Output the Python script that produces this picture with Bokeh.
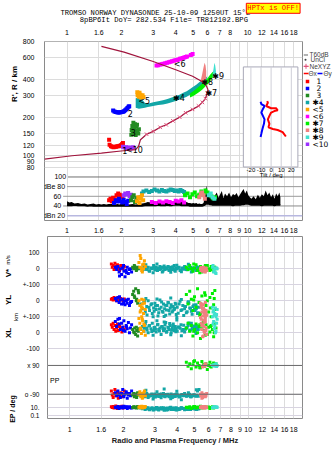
import math
from bokeh.plotting import figure
from bokeh.layouts import column, row
from bokeh.models import Range1d, LinearScale, FixedTicker, Label, LogAxis, Span
from bokeh.embed import file_html
from bokeh.resources import INLINE

# ------------------------------------------------------------------ texts / ticks
TITLE_1 = "TROMSO NORWAY   DYNASONDE 25-10-09 1250UT 15°E"
TITLE_2 = "8pBP6It DoY= 282.534 File= TR812102.BPG"
WARNING = "HPTx is OFF!"
X_LABEL = "Radio and Plasma Frequency / MHz"
H_LABEL = "R', R / km"
FREQ_TICKS_TOP = [1, 1.5, 2, 3, 4, 5, 6, 7, 8, 10, 12, 14, 16, 18]
FREQ_LABELS_TOP = ["1", "1.6", "2", "3", "4", "5", "6", "7", "8", "10", "12", "14", "16", "18"]
FREQ_TICKS_BOTTOM = [1, 1.5, 2, 3, 4, 5, 6, 7, 8, 9, 10, 12, 14, 16, 18]
FREQ_LABELS_BOTTOM = ["1", "1.6", "2", "3", "4", "5", "6", "7", "8", "9", "10", "12", "14", "16", "18"]
HEIGHT_TICKS = [80, 90, 100, 120, 150, 200, 300, 400, 600, 800]
DB_TICKS = [100, 80, 60, 40, 20]
DB_TICK_LABELS = ["100", "dBe 80", "60", "40", "dBn 20"]
TILT_TICKS = [-20, -10, 0, 10, 20]
TILT_LABEL = "Tilt / deg"
LOW_TICK_LABELS = ["100", "0", "+-100", "0", "+-100", "0", "-100", "x 90", "o -90", "10.", "0.1"]
LEGEND_TOP = ["T60dB", "UnCl", "NeXYZ", "Θx", "Θy"]
TRACE_NAMES = ["1", "2", "3", "✱4", "<5", "<6", "✱7", "✱8", "✱9", "<10"]
TRACE_COLORS = ["#ff0000", "#0000ff", "#228b22", "#12a6a6", "#ffa500",
                "#ff00ff", "#00ee00", "#f08080", "#40e0d0", "#9b30ff"]

# ------------------------------------------------------------------ N(h) profile (MHz, km)
PROF_F = [0.75, 1.065, 1.55, 1.99, 2.40, 2.49, 2.55, 2.76, 3.0, 3.28, 3.54, 3.86, 4.21, 4.54,
          4.96, 5.35, 5.62, 5.84, 5.98, 6.03, 5.91, 5.62, 4.96, 4.0, 3.0, 2.07, 1.55]
PROF_H = [94, 100, 105, 109, 112, 119, 134, 148, 156, 168, 176, 189, 202, 219,
          233, 248, 265, 284, 313, 335, 358, 386, 427, 480, 558, 662, 735]

# ------------------------------------------------------------------ echo traces, R' (MHz, km)
E1_F = [1.71, 1.72, 1.75, 1.78, 1.81, 1.84, 1.87, 1.90, 1.93, 1.96, 1.99, 2.02, 2.04]
E1_H = [134, 122, 119, 118, 117, 118, 118, 119, 119, 120, 121, 124, 126]
E2_F = [1.80, 1.83, 1.86, 1.89, 1.92, 1.95, 1.98, 2.01, 2.04, 2.07, 2.10, 2.13, 2.16, 2.19, 2.21]
E2_H = [228, 224, 222, 221, 220, 220, 221, 222, 223, 225, 229, 234, 239, 244, 247]
E3_F = [2.33, 2.38, 2.30, 2.42, 2.35, 2.28, 2.45, 2.38, 2.31, 2.48, 2.40, 2.27, 2.50, 2.36, 2.44]
E3_H = [183, 178, 172, 170, 165, 160, 158, 155, 150, 150, 146, 147, 162, 168, 176]
E4_F = [2.40, 2.50, 2.60, 2.70, 2.80, 2.90, 3.00, 3.20, 3.40, 3.60, 3.80, 4.00, 4.20, 4.40,
        4.60, 4.80, 5.00, 5.20, 5.40, 5.60, 5.80, 5.95]
E4_LO = [240, 236, 238, 240, 243, 246, 248, 252, 255, 260, 266, 272, 279, 286,
         294, 304, 315, 328, 342, 356, 372, 385]
E4_HI = [285, 290, 280, 262, 258, 262, 266, 270, 275, 282, 290, 298, 305, 315,
         325, 338, 352, 366, 382, 398, 412, 425]
E5_F = [2.45, 2.48, 2.52, 2.46, 2.55, 2.60, 2.50, 2.57, 2.62, 2.65, 2.53]
E5_H = [318, 310, 316, 302, 305, 298, 294, 290, 302, 292, 300]
E6_F = [3.13, 3.20, 3.28, 3.35, 3.42, 3.50, 3.58, 3.66, 3.74, 3.82, 3.90, 3.98, 4.06, 4.14,
        4.22, 4.30, 4.38, 4.46, 4.54, 4.62, 4.85, 4.96]
E6_H = [518, 522, 528, 532, 536, 542, 545, 550, 556, 560, 566, 570, 575, 580,
        586, 590, 596, 600, 606, 612, 630, 640]
E7_F = [4.80, 5.00, 5.20, 5.40, 5.60, 5.80, 6.00, 6.20, 6.40, 6.55]
E7_LO = [290, 298, 308, 320, 334, 350, 368, 390, 415, 435]
E7_HI = [312, 325, 340, 356, 372, 392, 412, 438, 462, 470]
E8_F = [5.50, 5.60, 5.70, 5.78, 5.85, 5.90]
E8_LO = [380, 385, 390, 395, 400, 405]
E8_HI = [395, 440, 500, 545, 520, 470]
E9_F = [6.40, 6.48, 6.55, 6.62, 6.68]
E9_LO = [420, 425, 430, 435, 440]
E9_HI = [440, 490, 545, 520, 470]
E10_F = [2.04, 2.08, 2.12, 2.16, 2.20, 2.24, 2.28, 2.32]
E10_H = [118, 116, 117, 115, 116, 114, 115, 117]
ECHO_LABEL_F = [2.02, 2.17, 2.25, 3.86, 2.48, 3.90, 5.84, 5.55, 6.37, 2.12]
ECHO_LABEL_H = [110, 215, 152, 282, 270, 528, 312, 380, 428, 110]

# ------------------------------------------------------------------ tilt inset (deg, km)
TILTX_T = [-3.9, -3.2, -4.9, 0, 4.9, 6.5, 3.2, 0, -1.7, -3.2, -1.7, -2.6, 1.7, 6.5, 11.4, 14.6]
TILTX_H = [271, 263, 248, 238, 238, 229, 226, 220, 207, 194, 179, 168, 163, 160, 154, 142]
TILTY_T = [-10.4, -9.7, -6.5, -8.1, -9.7, -8.1, -6.5, -7.1, -8.1, -9.0, -9.7, -10.4]
TILTY_H = [268, 257, 248, 235, 220, 207, 194, 179, 168, 158, 149, 141]

# ------------------------------------------------------------------ amplitudes (MHz, dB)
NOISE_F = [1.00, 1.03, 1.06, 1.10, 1.15, 1.20, 1.25, 1.30, 1.35, 1.40,
           1.45, 1.50, 1.55, 1.60, 1.65, 1.70, 1.75, 1.80, 1.85, 1.90,
           1.95, 2.00, 2.10, 2.20, 2.30, 2.40, 2.50, 2.60, 2.70, 2.80,
           2.90, 3.00, 3.10, 3.20, 3.30, 3.40, 3.50, 3.60, 3.70, 3.80,
           3.90, 4.00, 4.10, 4.20, 4.30, 4.40, 4.50, 4.60, 4.70, 4.80,
           4.90, 5.00, 5.10, 5.20, 5.30, 5.40, 5.50, 5.60, 5.70, 5.80,
           5.85, 5.90, 5.95, 6.00, 6.10, 6.20, 6.30, 6.40, 6.50, 6.60,
           6.75, 6.90, 7.05, 7.20, 7.35, 7.50, 7.70, 7.90, 8.10, 8.30,
           8.50, 8.70, 8.90, 9.10, 9.30, 9.50, 9.70, 9.90, 10.1, 10.3,
           10.5, 10.8, 11.1, 11.4, 11.7, 12.0, 12.3, 12.6, 12.9, 13.2,
           13.5, 13.8, 14.1, 14.4, 14.7, 15.0, 15.2]
NOISE_HI = [50, 47, 48, 45, 46, 44, 45, 43, 44, 45,
            43, 44, 43, 44, 43, 44, 44, 45, 43, 44,
            43, 45, 44, 43, 44, 43, 44, 45, 46, 48,
            47, 50, 48, 51, 49, 48, 47, 50, 48, 49,
            50, 52, 49, 50, 48, 49, 47, 48, 46, 46,
            45, 46, 45, 46, 44, 45, 44, 44, 46, 58,
            72, 82, 75, 68, 62, 58, 56, 58, 60, 62,
            68, 57, 64, 71, 56, 66, 60, 68, 58, 65,
            62, 67, 58, 64, 70, 75, 66, 72, 62, 58,
            55, 60, 54, 63, 57, 64, 60, 72, 62, 68,
            58, 64, 55, 66, 60, 68, 58]
NOISE_LO = [41, 41, 41, 42, 41, 41, 41, 40, 41, 40,
            40, 40, 40, 40, 40, 40, 40, 40, 40, 40,
            40, 40, 40, 40, 40, 40, 40, 40, 41, 41,
            41, 41, 41, 42, 41, 41, 41, 42, 41, 41,
            42, 42, 42, 42, 41, 41, 41, 41, 41, 40,
            40, 40, 40, 40, 40, 40, 40, 40, 41, 42,
            44, 45, 44, 44, 44, 43, 43, 42, 42, 42,
            42, 42, 42, 42, 42, 42, 42, 42, 42, 41,
            42, 42, 42, 42, 43, 43, 44, 44, 44, 43,
            42, 42, 42, 42, 42, 41, 42, 42, 42, 42,
            42, 42, 41, 42, 42, 42, 42]
A1_F = [1.71, 1.74, 1.77, 1.80, 1.84, 1.88, 1.92, 1.96, 2.00, 2.03]
A1_DB = [52, 55, 50, 57, 54, 62, 66, 63, 58, 60]
A2_F = [1.82, 1.86, 1.90, 1.94, 1.98, 2.02, 2.06, 2.10, 2.14, 2.18]
A2_DB = [46, 52, 49, 55, 50, 47, 53, 48, 44, 51]
A3_F = [2.26, 2.30, 2.34, 2.38, 2.42]
A3_DB = [52, 58, 62, 48, 56]
A4_F = [2.55, 2.60, 2.65, 2.75, 2.85, 2.95, 3.05, 3.15, 3.25, 3.35, 3.45,
        3.55, 3.65, 3.75, 3.85, 3.95, 4.05, 4.15, 4.25, 4.35, 4.45]
A4_DB = [58, 66, 70, 72, 69, 71, 74, 72, 70, 73, 71,
         70, 72, 74, 73, 71, 72, 70, 73, 71, 69]
A5_F = [2.44, 2.48, 2.52, 2.56, 2.60, 2.64]
A5_DB = [50, 58, 46, 55, 62, 52]
A6_F = [2.95, 3.10, 3.25, 3.40, 3.55, 3.70, 3.85, 4.00, 4.15, 4.30, 4.45]
A6_DB = [48, 46, 49, 47, 50, 48, 46, 51, 49, 52, 47]
A7_F = [4.50, 4.65, 4.80, 4.95, 5.10, 5.25, 5.40, 5.55, 5.70, 5.85, 6.00, 6.15, 6.30, 6.45, 6.60]
A7_DB = [62, 66, 58, 64, 68, 60, 63, 70, 66, 72, 68, 64, 60, 56, 58]
A8_F = [5.40, 5.50, 5.60, 5.70, 5.80]
A8_DB = [58, 64, 68, 62, 55]
A9_F = [6.10, 6.25, 6.40, 6.55]
A9_DB = [62, 66, 58, 55]
A10_F = [2.06, 2.10, 2.14, 2.18, 2.22, 2.26]
A10_DB = [62, 66, 64, 67, 60, 63]

# ------------------------------------------------------------------ lower panel: V* (m/s), YL, XL (km), PP, EP (deg)
L1_F = [1.71, 1.73, 1.75, 1.77, 1.79, 1.81, 1.83, 1.85, 1.87, 1.90, 1.93, 1.96, 1.99, 2.02]
L1_V = [30, 10, 20, -5, 35, 15, 0, 25, 5, -10, 20, 10, 0, 15]
L1_YL = [10, 15, 5, 20, 12, 8, 0, 18, 10, 5, 15, 8, 2, 12]
L1_XL = [50, 35, 60, 20, 45, 10, 30, 55, 15, 40, 25, 5, 35, 20]
L1_PP = [-70, -95, -110, -85, -60, -100, -90, -75, -115, -95, -80, -105, -90, -70]
L1_EP = [12, 8, 15, 6, 10, 20, 9, 5, 14, 7, 11, 18, 6, 9]

L2_F = [1.80, 1.83, 1.86, 1.89, 1.92, 1.95, 1.98, 2.01, 2.04, 2.07, 2.10, 2.13, 2.16, 2.19, 2.22, 1.90, 2.00, 2.08]
L2_V = [10, -5, 15, -20, 0, -35, 5, -15, -50, -10, 10, -30, -5, 0, -20, -45, 20, -25]
L2_YL = [15, 0, 20, -10, 5, -20, 10, -5, -25, 0, -15, 10, -30, -10, -5, 25, -18, 5]
L2_XL = [70, 40, 85, 55, 20, 60, 35, 75, 10, 45, 25, 65, 0, 30, 50, 90, 15, 38]
L2_PP = [-80, -100, -70, -95, -110, -85, -60, -105, -90, -75, -115, -95, -85, -100, -70, -88, -98, -82]
L2_EP = [10, 7, 14, 5, 9, 12, 6, 16, 8, 11, 5, 9, 13, 7, 6, 10, 8, 12]

L3_F = [2.25, 2.28, 2.31, 2.34, 2.37, 2.40, 2.43, 2.30, 2.36, 2.42]
L3_V = [10, 0, 15, 5, -5, 10, 0, 20, -10, 5]
L3_YL = [40, 60, 20, 75, 10, -15, 50, 30, 0, 65]
L3_XL = [20, 5, 30, -10, 15, -20, 25, 0, 35, 10]
L3_PP = [-95, -85, -100, -90, -110, -80, -95, -105, -88, -92]
L3_EP = [9, 12, 7, 10, 6, 14, 8, 11, 9, 7]

L4_F = [2.50, 2.55, 2.60, 2.65, 2.70, 2.75, 2.80, 2.85, 2.90, 2.95,
        3.00, 3.05, 3.10, 3.15, 3.20, 3.25, 3.30, 3.35, 3.40, 3.45,
        3.50, 3.55, 3.60, 3.65, 3.70, 3.75, 3.80, 3.85, 3.90, 3.95,
        4.00, 4.10, 4.20, 4.30, 4.40, 4.50, 4.60, 4.70, 4.80, 4.90,
        5.00, 5.10, 5.20, 5.30]
L4_V = [5, -10, 15, 0, -5, 10, -15, 5, 0, 20, -5, 10, -10, 5, 15, 0, -20, 10, -5, 5,
        0, 15, -10, 5, 10, -5, 0, 20, -15, 5, 0, 10, -10, 5, 15, -5, 0, 10, -20, 5,
        0, -10, 10, -5]
L4_YL = [-20, -50, -10, -70, -35, 0, -60, -25, -80, -45, -15, -55, -30, -75, 5, -40, -65, -20, -50, -90,
         -30, -10, -60, -45, -25, -70, -35, -55, -15, -85, -40, -20, -60, -30, -50, -75, -10, -45, -65, -35,
         -55, -25, -80, -40]
L4_XL = [20, 40, 10, 55, 30, 0, 45, 25, 60, 15, 35, 5, 50, 20, 30, -10, 40, 15, 25, 65,
         10, 35, 20, 45, 0, 30, 55, 15, 40, 25, 10, 35, 50, 20, 5, 30, 45, 15, 60, 25,
         35, -5, 20, 40]
L4_PP = [-95, -100, -90, -105, -85, -110, -95, -100, -92, -108, -88, -100, -96, -104, -90, -112, -98, -85, -102, -94,
         -100, -90, -106, -96, -88, -110, -100, -93, -104, -97, -90, -108, -95, -100, -86, -102, -98, -92, -106, -99,
         -94, -103, -70, -60]
L4_EP = [6, 4, 8, 3, 5, 7, 2.5, 4, 6, 3, 5, 9, 4, 2, 6, 3.5, 5, 7, 3, 4,
         6, 2.5, 5, 8, 3, 4, 6, 3, 5, 7, 4, 3, 6, 5, 2.5, 4, 7, 3, 5, 6,
         4, 3, 5, 4]

L4B_F = [2.62, 2.71, 2.78, 2.88, 2.97, 3.02, 3.12, 3.18, 3.27, 3.33,
         3.42, 3.48, 3.57, 3.63, 3.72, 3.78, 3.87, 3.93, 4.05, 4.15,
         4.25, 4.35, 4.45, 4.55, 4.65, 4.75, 4.85, 4.95, 5.05, 5.15,
         5.25, 2.67, 2.93, 3.08, 3.38, 3.68, 3.98, 4.22, 4.62, 5.12]
L4B_V = [-3, 8, -12, 4, 12, -8, 2, -4, 9, -14, 6, -2, 11, -7, 3, 13, -9, 1, 7, -11,
         4, -3, 10, -6, 2, 8, -13, 5, -1, 12, -5, 25, -25, 30, 18, -22, 22, -18, 28, -8]
L4B_YL = [-5, -88, -42, -18, -66, -33, -95, -52, -8, -72, -28, -58, -12, -82, -38, -62, -48, -22, -78, -3,
          -56, -92, -36, -68, -15, -46, -84, -26, -60, -40, -74, 15, -100, 12, -98, 18, -105, 8, -6, -50]
L4B_XL = [28, 18, 42, 8, 33, 22, 52, 12, 38, 27, 48, 3, 32, 58, 17, 43, 23, 7, 37, 28,
          13, 47, 22, 33, 62, 18, 27, 42, 8, 32, 20, 70, -15, 75, 68, -12, 80, -18, 55, 45]
L4B_PP = [-98, -92, -103, -88, -97, -107, -93, -101, -89, -99, -105, -91, -97, -102, -94, -108, -96, -90, -100, -104,
          -92, -98, -95, -101, -88, -106, -97, -93, -100, -96, -103, -65, -120, -75, -58, -118, -72, -125, -80, -62]
L4B_EP = [4, 5.5, 3, 6.5, 2.5, 4.5, 3, 5, 7, 3.5, 4, 2, 5, 6, 3, 4.5, 5.5, 2.5, 4, 3.5,
          6, 5, 3, 4, 7, 3, 5, 4, 6, 3, 4.5, 9, 2, 8, 1.8, 10, 2.2, 7, 3, 5]

L5_F = [2.44, 2.47, 2.50, 2.53, 2.56, 2.59, 2.62, 2.65, 2.48, 2.55, 2.60, 2.52]
L5_V = [40, 10, 65, -10, 25, 0, 50, 15, 83, -20, 30, 5]
L5_YL = [0, -30, -60, 10, -45, -80, -15, -55, -70, -20, 5, -40]
L5_XL = [90, 60, 30, 100, 75, 10, 45, -15, 20, 85, 55, -5]
L5_PP = [-90, -75, -105, -85, -110, -95, -70, -100, -88, -115, -80, -96]
L5_EP = [10, 14, 8, 18, 6, 12, 9, 15, 7, 11, 13, 8]

L7_F = [4.50, 4.60, 4.70, 4.80, 4.90, 5.00, 5.10, 5.20, 5.30, 5.40,
        5.50, 5.60, 5.70, 5.80, 5.90, 6.00, 6.10, 6.20, 6.30, 6.40,
        6.50, 6.60, 4.95, 5.35, 5.75, 6.15, 6.45]
L7_V = [10, -5, 20, 0, -15, 5, 25, -10, 0, 15, -20, 5, 10, -5, 20, 0, -10, 15, 5, -15, 10, 0, 30, -25, 20, -5, 10]
L7_YL = [40, -20, 60, 10, -60, 25, -40, 75, -10, -80, 30, -50, 50, -30, 0, -70, 20, -100, 45, -25, 65, -55, 5, -90, 35, -45, 15]
L7_XL = [30, 60, 10, 45, -20, 20, 55, 0, 40, -35, 25, 65, 15, 50, -10, 35, 5, 45, 20, -25, 60, 30, 10, 50, -15, 40, 0]
L7_PP = [110, 85, 100, 70, 95, 120, 80, 105, 90, 75, 115, 95, 85, 100, 65, 90, 110, 80, 95, 105, 90, 100, 115, 75, 95, 85, 100]
L7_EP = [10, 7, 12, 5, 9, 14, 6, 11, 8, 16, 6, 10, 13, 7, 9, 11, 5, 8, 12, 6, 10, 9, 15, 7, 11, 8, 10]

L8_F = [5.40, 5.45, 5.50, 5.55, 5.60, 5.65, 5.70, 5.75, 5.80, 5.85, 5.45, 5.55, 5.65, 5.75, 5.50, 5.60, 5.70, 5.80]
L8_V = [0, -10, 5, -15, 10, -5, 0, -20, 5, -10, 8, -12, 2, -8, -3, 6, -18, 0]
L8_YL = [-15, -40, -70, -95, -25, -55, -85, -10, -60, -90, -30, -50, -75, -100, -20, -45, -65, -80]
L8_XL = [95, 60, 20, -25, 80, 40, 0, 70, 30, -10, 85, 50, 10, 90, 45, -20, 65, 15]
L8_PP = [-90, -100, -80, -110, -95, 90, 85, -105, 95, -85, -100, 80, -90, 100, -115, -95, 88, -100]
L8_EP = [9, 12, 7, 14, 10, 6, 11, 8, 13, 9, 10, 7, 12, 8, 11, 9, 6, 10]

L9_F = [6.30, 6.40, 6.50, 6.60, 6.70, 6.35, 6.45, 6.55, 6.65]
L9_V = [10, -20, 5, -30, 0, 20, -10, -25, 5]
L9_YL = [-40, -60, -80, -100, -55, -70, -90, -45, -85]
L9_XL = [100, 70, 40, 10, 85, 55, 25, 0, 60]
L9_PP = [90, 95, 85, 100, 90, 88, 92, 96, 84]
L9_EP = [8, 11, 9, 13, 10, 7, 12, 9, 10]

# ------------------------------------------------------------------ layout helpers
PAGE_W, PAGE_H = 335, 451
LEFT_W = 19            # strip holding the rotated side labels
TITLE_H = 26           # strip holding the two title lines
FL, FR = 39, 302       # frame left / right (page px)
A_TOP, A_BOT = 39, 222
A_END = 235            # bottom of the upper figure (page px)
B_TOP, B_BOT = 236, 418
FONT = "Liberation Sans"
MONO = "Liberation Mono"


def f_at(px):
    return 10 ** ((px - 62.0) / 184.0)


def h_at(py):
    return 800.0 * 10 ** (-(py - 39.3) / 129.0)


def db_at(py):
    return 100.0 - (py - 177.5) / 0.494


def tilt_at(px):
    return (px - 270.0) / 1.03


def v_at(py):
    return (268.3 - py) / 0.16


def yv(v):
    return v


def yyl(v):
    return v - 200.0


def yxl(v):
    return v - 400.0


def ypp(v):
    return v - 694.0


def yep(v):
    return -891.0 + 26.0 * math.log10(v)


def label(p, x, y, text, size="7px", color="black", align="left", style="normal",
          font=FONT, angle=0.0, **kw):
    p.add_layout(Label(x=x, y=y, text=text, text_font_size=size, text_color=color,
                       text_align=align, text_baseline="middle", text_font=font,
                       text_font_style=style, angle=angle, **kw))


def strip(w, h, x0, x1, y0, y1):
    s = figure(width=w, height=h, x_range=Range1d(x0, x1), y_range=Range1d(y1, y0),
               output_backend="svg", toolbar_location=None,
               x_axis_location=None, y_axis_location=None, min_border=0,
               min_border_left=0, min_border_right=0, min_border_top=0, min_border_bottom=0)
    s.grid.visible = False
    s.outline_line_color = None
    s.background_fill_color = "white"
    s.border_fill_color = "white"
    return s


def style_axis(ax, ticks, labels, standoff, size="7px"):
    ax.ticker = FixedTicker(ticks=ticks)
    ax.major_label_overrides = {t: l for t, l in zip(ticks, labels)}
    ax.axis_line_color = None
    ax.major_tick_line_color = None
    ax.minor_tick_line_color = None
    ax.major_label_text_font_size = size
    ax.major_label_text_font = FONT
    ax.major_label_text_color = "black"
    ax.major_label_standoff = standoff


c = TRACE_COLORS

# ================================================================== upper figure
A_W = FR + 1 - LEFT_W
A_H = A_END - TITLE_H
pa = figure(width=A_W, height=A_H, x_axis_type="log", y_axis_type="log",
            x_range=Range1d(f_at(FL), f_at(FR)), y_range=Range1d(h_at(A_BOT), h_at(A_TOP)),
            output_backend="svg", toolbar_location=None,
            min_border_left=FL - LEFT_W, min_border_right=1, min_border_top=A_TOP - TITLE_H,
            min_border_bottom=A_END - A_BOT)
pa.extra_x_ranges = {"tilt": Range1d(tilt_at(FL), tilt_at(FR))}
pa.extra_x_scales = {"tilt": LinearScale()}
pa.extra_y_ranges = {"db": Range1d(db_at(A_BOT), db_at(A_TOP))}
pa.extra_y_scales = {"db": LinearScale()}
pa.outline_line_color = "#8a8a8a"
pa.background_fill_color = "white"
pa.border_fill_color = "white"
pa.xgrid.ticker = FixedTicker(ticks=FREQ_TICKS_BOTTOM)
pa.ygrid.ticker = FixedTicker(ticks=HEIGHT_TICKS)
pa.xgrid.grid_line_color = "#dcdcdc"
pa.ygrid.grid_line_color = "#dcdcdc"
style_axis(pa.xaxis[0], FREQ_TICKS_BOTTOM, FREQ_LABELS_BOTTOM, 1)
style_axis(pa.yaxis[0], HEIGHT_TICKS, [str(t) for t in HEIGHT_TICKS], 4)
top_ax = LogAxis()
style_axis(top_ax, FREQ_TICKS_TOP, FREQ_LABELS_TOP, 1)
pa.add_layout(top_ax, "above")

# tilt inset
pa.quad(left=tilt_at(241.7), right=tilt_at(297.3), bottom=h_at(167.3), top=h_at(65),
        x_range_name="tilt", fill_color="white", line_color="#a8a8b8", line_width=1)
pa.segment(x0=TILT_TICKS, x1=TILT_TICKS, y0=[h_at(167.3)] * len(TILT_TICKS),
           y1=[h_at(65)] * len(TILT_TICKS), x_range_name="tilt", line_color="#cfcfd8", line_width=1)
pa.line(TILTX_T, TILTX_H, x_range_name="tilt", line_color="#ff0000", line_width=2)
pa.line(TILTY_T, TILTY_H, x_range_name="tilt", line_color="#0000ff", line_width=2)
for t in TILT_TICKS:
    label(pa, t, h_at(170.8), str(t), size="6px", align="center", x_range_name="tilt")
label(pa, 0, h_at(175.8), TILT_LABEL, size="6px", align="center", x_range_name="tilt")

# echo traces (R')
pa.varea(x=E4_F, y1=E4_LO, y2=E4_HI, fill_color=c[3])
pa.varea(x=E7_F, y1=E7_LO, y2=E7_HI, fill_color=c[6])
pa.varea(x=E8_F, y1=E8_LO, y2=E8_HI, fill_color=c[7])
pa.varea(x=E9_F, y1=E9_LO, y2=E9_HI, fill_color=c[8])
pa.line(E1_F[1:], E1_H[1:], line_color=c[0], line_width=3)
pa.scatter(E1_F, E1_H, marker="square", size=4, fill_color=c[0], line_color=None)
pa.line(E2_F, E2_H, line_color=c[1], line_width=3)
pa.scatter(E2_F, E2_H, marker="square", size=4, fill_color=c[1], line_color=None)
pa.scatter(E3_F, E3_H, marker="square", size=4, fill_color=c[2], line_color=None)
pa.scatter(E5_F, E5_H, marker="square", size=4, fill_color=c[4], line_color=None)
pa.scatter(E6_F, E6_H, marker="square", size=4, fill_color=c[5], line_color=None)
pa.scatter(E10_F, E10_H, marker="square", size=4, fill_color=c[9], line_color=None)

# N(h) profile
pa.line(PROF_F, PROF_H, line_color="#a0143c", line_width=1.2)
pa.scatter(PROF_F[7:19], PROF_H[7:19], marker="x", size=5, line_color="#e0507a", line_width=1)

for name, f, h in zip(TRACE_NAMES, ECHO_LABEL_F, ECHO_LABEL_H):
    label(pa, f, h, name, size="8px", font="DejaVu Sans")

# amplitude panel
DB_LABEL_RIGHT = [61, 60, 56, 56, 60]
DB_LINE_COLORS = ["#707070", "#9a9a9a", "#9a9a9a", "#8a8a8a", "#b8b8e0"]
for tick, lab, rx, lc in zip(DB_TICKS, DB_TICK_LABELS, DB_LABEL_RIGHT, DB_LINE_COLORS):
    pa.segment(x0=[f_at(rx + 2)], x1=[f_at(FR)], y0=[tick], y1=[tick], y_range_name="db",
               line_color=lc, line_width=1.5 if tick == 20 else 1)
    label(pa, f_at(rx), tick, lab, align="right", y_range_name="db")
pa.varea(x=NOISE_F, y1=NOISE_LO, y2=NOISE_HI, fill_color="black", y_range_name="db")
pa.line(NOISE_F, NOISE_LO, line_color="black", line_width=1.5, y_range_name="db")
amps = [(A1_F, A1_DB, 0), (A2_F, A2_DB, 1), (A10_F, A10_DB, 9), (A3_F, A3_DB, 2), (A4_F, A4_DB, 3),
        (A5_F, A5_DB, 4), (A6_F, A6_DB, 5), (A7_F, A7_DB, 6), (A8_F, A8_DB, 7), (A9_F, A9_DB, 8)]
for f, d, k in amps:
    pa.scatter(f, d, marker="square", size=4, fill_color=c[k], line_color=None, y_range_name="db")

# ================================================================== legend strip (page px)
lg = strip(PAGE_W - FR - 1, A_H, FR + 1, PAGE_W, TITLE_H, A_END)
lg.segment(x0=[303], x1=[307.5], y0=[41.7], y1=[41.7], line_color="#9a9a9a", line_width=1.5)
label(lg, 309, 41.7, LEGEND_TOP[0], size="6.5px", color="#404040")
lg.scatter([305], [47.2], marker="circle", size=2, fill_color="#404040", line_color=None)
label(lg, 310, 47.2, LEGEND_TOP[1], size="6.5px", color="#404040")
lg.segment(x0=[303], x1=[308], y0=[55], y1=[55], line_color="#e0507a", line_width=1)
lg.scatter([305.5], [55], marker="cross", size=5, line_color="#e0507a", line_width=1)
label(lg, 309, 55, LEGEND_TOP[2], size="6.5px", color="#404040")
lg.segment(x0=[303], x1=[308], y0=[63.3], y1=[63.3], line_color="#ff0000", line_width=1.5)
label(lg, 308, 63.3, LEGEND_TOP[3], size="6.5px", color="#404040")
lg.segment(x0=[317], x1=[322], y0=[63.3], y1=[63.3], line_color="#0000ff", line_width=1.5)
label(lg, 323, 63.3, LEGEND_TOP[4], size="6.5px", color="#404040")
leg_y = [72.7 + 8.15 * i for i in range(len(TRACE_NAMES))]
lg.scatter([307] * len(leg_y), leg_y, marker="square", size=3.5, fill_color=c, line_color=None)
for name, yy in zip(TRACE_NAMES, leg_y):
    label(lg, 316 if name[0].isdigit() else 312, yy, name, size="7.5px", font="DejaVu Sans")

# ================================================================== title strip (page px)
ts = strip(PAGE_W - LEFT_W, TITLE_H, LEFT_W, PAGE_W, 0, TITLE_H)
label(ts, 35, 12, TITLE_1, size="7.2px", font=MONO)
label(ts, 59, 19.8, TITLE_2, size="7.2px", font=MONO)
label(ts, 332, 7.8, WARNING, size="7.2px", font=MONO, color="#ff0000", align="right",
      background_fill_color="#ffff00", border_line_color="#ff0000", border_line_width=1, padding=1)

# ================================================================== lower figure
pb = figure(width=PAGE_W - LEFT_W, height=PAGE_H - A_END, x_axis_type="log",
            x_range=Range1d(f_at(FL), f_at(FR)), y_range=Range1d(v_at(B_BOT), v_at(B_TOP)),
            output_backend="svg", toolbar_location=None,
            min_border_left=FL - LEFT_W, min_border_right=PAGE_W - FR, min_border_top=B_TOP - A_END,
            min_border_bottom=PAGE_H - B_BOT)
pb.outline_line_color = "#8a8a8a"
pb.background_fill_color = "white"
pb.border_fill_color = "white"
low_ticks = [yv(100), yv(0), yv(-100), yyl(0), yyl(-100), yxl(0), yxl(-100),
             ypp(90), ypp(-90), yep(10), yep(0.1)]
pb.xgrid.ticker = FixedTicker(ticks=FREQ_TICKS_BOTTOM)
pb.ygrid.ticker = FixedTicker(ticks=low_ticks)
pb.xgrid.grid_line_color = "#dcdcdc"
pb.ygrid.grid_line_color = "#d8d4e0"
style_axis(pb.xaxis[0], FREQ_TICKS_BOTTOM, FREQ_LABELS_BOTTOM, 2)
style_axis(pb.yaxis[0], low_ticks, LOW_TICK_LABELS, 2, size="6.5px")
pb.xaxis[0].axis_label = X_LABEL
pb.xaxis[0].axis_label_text_font = FONT
pb.xaxis[0].axis_label_text_font_size = "7.5px"
pb.xaxis[0].axis_label_text_font_style = "bold"
pb.xaxis[0].axis_label_text_color = "#202020"
pb.xaxis[0].axis_label_standoff = 1
for loc in (ypp(90), ypp(-90)):
    pb.add_layout(Span(location=loc, dimension="width", line_color="#6a6a6a", line_width=1))

lows = [(L1_F, L1_V, L1_YL, L1_XL, L1_PP, L1_EP, 0),
        (L2_F, L2_V, L2_YL, L2_XL, L2_PP, L2_EP, 1),
        (L3_F, L3_V, L3_YL, L3_XL, L3_PP, L3_EP, 2),
        (L4_F, L4_V, L4_YL, L4_XL, L4_PP, L4_EP, 3),
        (L4B_F, L4B_V, L4B_YL, L4B_XL, L4B_PP, L4B_EP, 3),
        (L5_F, L5_V, L5_YL, L5_XL, L5_PP, L5_EP, 4),
        (L7_F, L7_V, L7_YL, L7_XL, L7_PP, L7_EP, 6),
        (L8_F, L8_V, L8_YL, L8_XL, L8_PP, L8_EP, 7),
        (L9_F, L9_V, L9_YL, L9_XL, L9_PP, L9_EP, 8)]
for f, v, yl, xl, pp, ep, k in lows:
    ys = ([yv(a) for a in v] + [yyl(a) for a in yl] + [yxl(a) for a in xl] +
          [ypp(a) for a in pp] + [yep(a) for a in ep])
    pb.scatter(list(f) * 5, ys, marker="square", size=3, fill_color=c[k], line_color=None)
label(pb, f_at(46.5), v_at(379.5), "PP", align="center")

# ================================================================== left strip (page px)
ls = strip(LEFT_W, PAGE_H, 0, LEFT_W, 0, PAGE_H)
rot = math.pi / 2
label(ls, 13.5, 83.5, H_LABEL, size="8px", align="center", style="bold", angle=rot)
label(ls, 7.5, 272.5, "V*", size="8px", align="center", style="bold", angle=rot)
label(ls, 7.5, 259.5, "m/s", size="6px", align="center", angle=rot)
label(ls, 7.5, 299.5, "YL", size="8px", align="center", style="bold", angle=rot)
label(ls, 15.5, 316.5, "km", size="6px", align="center", angle=rot)
label(ls, 7.5, 332.5, "XL", size="8px", align="center", style="bold", angle=rot)
label(ls, 12, 408.5, "EP / deg", size="7px", align="center", style="bold", angle=rot)

layout = row(ls, column(ts, row(pa, lg, spacing=0), pb, spacing=0), spacing=0)
open("out.html", "w").write(file_html(layout, INLINE))
